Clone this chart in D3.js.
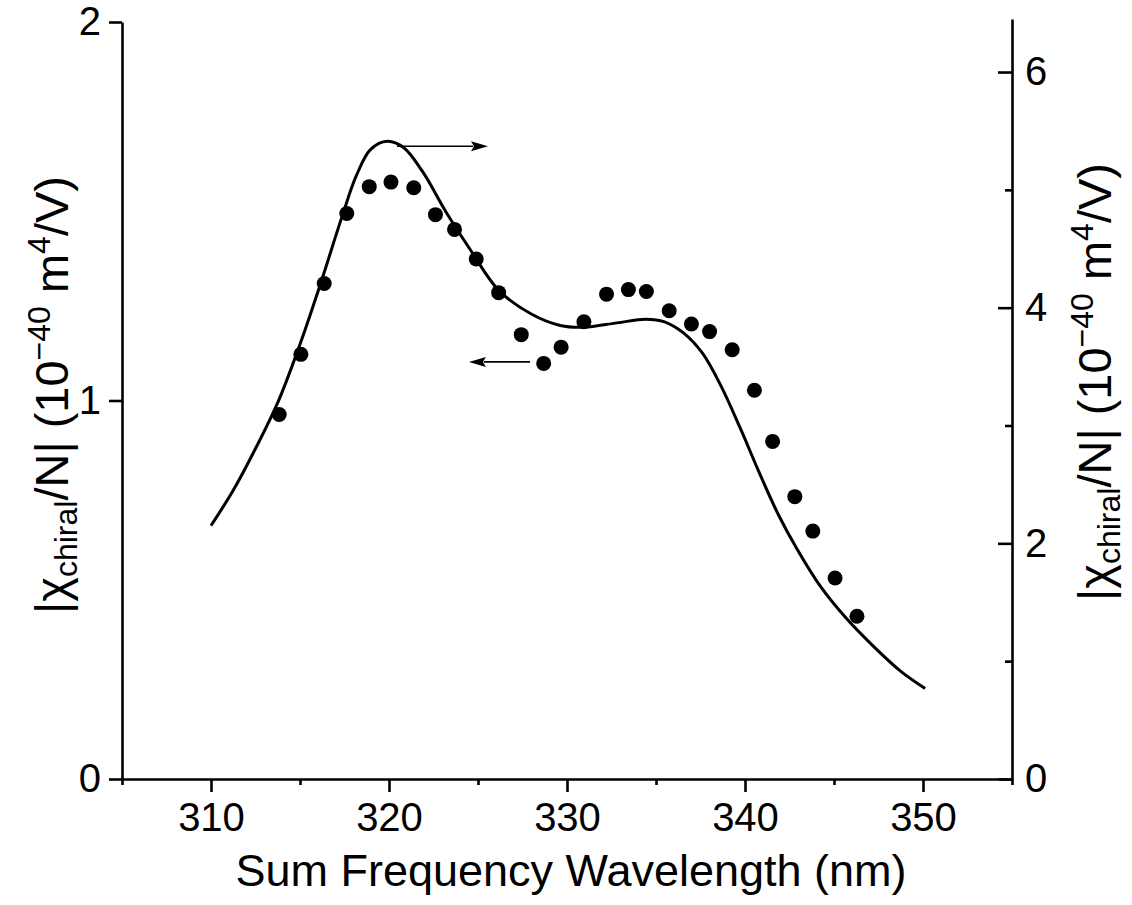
<!DOCTYPE html>
<html>
<head>
<meta charset="utf-8">
<script src="https://cdn.jsdelivr.net/npm/d3@7"></script>
<style>
  body { margin: 0; background: #fff; }
  svg text { font-family: "Liberation Sans", Arial, sans-serif; fill: #000; }
</style>
</head>
<body>
<svg id="chart" width="1132" height="905"></svg>
<script>
// measured points (left axis)
const dotWl = [313.83, 315.05, 316.36, 317.63, 318.89, 320.11, 321.39, 322.61, 323.68, 324.90,
  326.16, 327.43, 328.69, 329.67, 330.95, 332.22, 333.45, 334.46, 335.74, 336.99,
  338.01, 339.28, 340.53, 341.55, 342.80, 343.81, 345.06, 346.29];
const dotChi = [0.963, 1.122, 1.309, 1.494, 1.565, 1.577, 1.562, 1.491, 1.452, 1.374,
  1.285, 1.174, 1.098, 1.141, 1.208, 1.281, 1.293, 1.288, 1.237, 1.202,
  1.182, 1.134, 1.027, 0.892, 0.746, 0.655, 0.531, 0.430];

// calculated curve (right axis)
const curveWl = [310.0, 311.25, 312.58, 313.78, 314.97, 316.17, 317.37, 318.17, 318.97, 319.90,
  320.83, 321.89, 323.22, 324.56, 326.16, 328.02, 329.62, 330.95, 332.81, 334.41,
  335.48, 336.54, 337.61, 338.67, 339.74, 340.80, 341.87, 342.93, 344.26, 345.59,
  347.19, 348.79, 350.12];
const curveChi = [2.151, 2.450, 2.828, 3.205, 3.677, 4.211, 4.777, 5.122, 5.343, 5.412,
  5.358, 5.154, 4.808, 4.494, 4.148, 3.944, 3.849, 3.834, 3.871, 3.902,
  3.880, 3.786, 3.614, 3.330, 2.975, 2.600, 2.245, 1.950, 1.630, 1.381,
  1.130, 0.909, 0.768];

const xMajor = [310, 320, 330, 340, 350];
const xMinor = [305, 315, 325, 335, 345, 355];
const leftTicks = [0, 1, 2];
const rightMajor = [0, 2, 4, 6];
const rightMinor = [1, 3, 5];

const svg = d3.select("#chart");

const left = 122, right = 1012, bottom = 779;

const x = d3.scaleLinear().domain([305, 355]).range([left, right]);
const yL = d3.scaleLinear().domain([0, 2]).range([bottom, 22]);
const yR = d3.scaleLinear().domain([0, 6.45]).range([bottom, 19]);

const axisW = 2.6;
const tickFont = 40;

// x axis
const gx = svg.append("g").attr("transform", `translate(0,${bottom})`);
gx.call(d3.axisBottom(x).tickValues(xMajor).tickSizeInner(13).tickSizeOuter(0)
  .tickPadding(11).tickFormat(d3.format("d")));
gx.append("g").call(d3.axisBottom(x).tickValues(xMinor).tickSize(6).tickFormat(""))
  .select(".domain").remove();

// left axis
const gl = svg.append("g").attr("transform", `translate(${left},0)`);
gl.call(d3.axisLeft(yL).tickValues(leftTicks).tickSizeInner(13).tickSizeOuter(0)
  .tickPadding(8).tickFormat(d3.format("d")));

// right axis, ticks pointing in
const gr = svg.append("g").attr("transform", `translate(${right},0)`);
gr.call(d3.axisRight(yR).tickValues(rightMajor).tickSizeInner(-14).tickSizeOuter(0)
  .tickPadding(13).tickFormat(d3.format("d")));
gr.append("g").call(d3.axisRight(yR).tickValues(rightMinor).tickSize(-7).tickFormat(""))
  .select(".domain").remove();

svg.selectAll(".domain, .tick line")
  .attr("stroke", "#000").attr("stroke-width", axisW);
svg.selectAll(".tick text")
  .style("font-size", tickFont + "px")
  .style("font-family", "'Liberation Sans', Arial, sans-serif");

// curve
const line = d3.line()
  .x((d, i) => x(curveWl[i]))
  .y(d => yR(d))
  .curve(d3.curveCatmullRom);

svg.append("path")
  .datum(curveChi)
  .attr("d", line)
  .attr("fill", "none")
  .attr("stroke", "#000")
  .attr("stroke-width", 3);

// dots
svg.append("g")
  .selectAll("circle")
  .data(dotChi)
  .join("circle")
  .attr("cx", (d, i) => x(dotWl[i]))
  .attr("cy", d => yL(d))
  .attr("r", 7.5)
  .attr("fill", "#000");

// arrows pointing to the axis each series belongs to
const arrows = [
  { x1: 320.45, x2: 325.56, y: yR(5.37) },
  { x1: 327.92, x2: 324.49, y: yL(1.102) }
];
arrows.forEach(a => {
  const sx = x(a.x1), ex = x(a.x2), dir = Math.sign(ex - sx);
  const head = 17, half = 5;
  svg.append("line")
    .attr("x1", sx).attr("x2", ex - dir * head + dir * 2)
    .attr("y1", a.y).attr("y2", a.y)
    .attr("stroke", "#000").attr("stroke-width", 1.6);
  svg.append("path")
    .attr("d", `M${ex},${a.y}L${ex - dir * head},${a.y - half}L${ex - dir * head + dir * 3},${a.y}L${ex - dir * head},${a.y + half}Z`)
    .attr("fill", "#000");
});

// axis titles
svg.append("text")
  .attr("x", (left + right) / 2 + 4)
  .attr("y", 886)
  .attr("text-anchor", "middle")
  .style("font-size", "45px")
  .text("Sum Frequency Wavelength (nm)");

function yTitle(tx, ty) {
  const t = svg.append("text")
    .attr("transform", `translate(${tx},${ty}) rotate(-90)`)
    .attr("text-anchor", "middle")
    .style("font-size", "47px");
  t.append("tspan").text("|χ");
  t.append("tspan").attr("dy", 9).style("font-size", "32px").text("chiral");
  t.append("tspan").attr("dy", -9).text("/N| (10");
  t.append("tspan").attr("dy", -18).style("font-size", "32px").text("−40");
  t.append("tspan").attr("dy", 18).text(" m");
  t.append("tspan").attr("dy", -18).style("font-size", "32px").text("4");
  t.append("tspan").attr("dy", 18).text("/V)");
}
yTitle(68, 395);
yTitle(1111, 382);
</script>
</body>
</html>
